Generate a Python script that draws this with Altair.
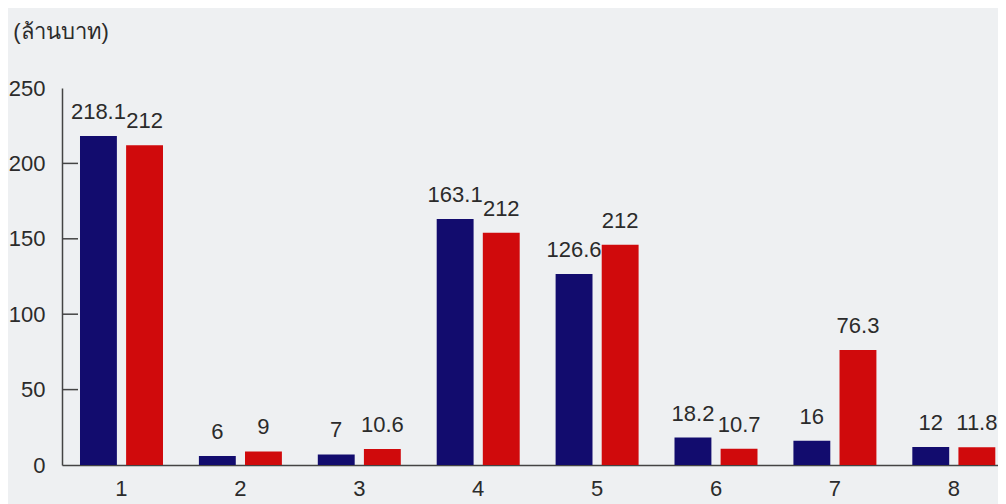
import altair as alt
import pandas as pd

categories = ["1", "2", "3", "4", "5", "6", "7", "8"]
series = ["s1", "s2"]
navy_values = [218.1, 6, 7, 163.1, 126.6, 18.2, 16, 12]
red_values = [212, 9, 10.6, 154, 146, 10.7, 76.3, 11.8]
navy_labels = ["218.1", "6", "7", "163.1", "126.6", "18.2", "16", "12"]
red_labels = ["212", "9", "10.6", "212", "212", "10.7", "76.3", "11.8"]
y_ticks = [0, 50, 100, 150, 200, 250]
inner_ticks = [50, 100, 150, 200]
title_text = "(ล้านบาท)"

rows = []
for c, v, l in zip(categories, navy_values, navy_labels):
    rows.append({"category": c, "series": series[0], "value": v, "label": l})
for c, v, l in zip(categories, red_values, red_labels):
    rows.append({"category": c, "series": series[1], "value": v, "label": l})
df = pd.DataFrame(rows)
tick_df = pd.DataFrame({"value": inner_ticks})

FONT = "Liberation Sans"
TXT = "#2b2b2b"
AX = "#444444"

x_enc = alt.X(
    "category:N",
    sort=categories,
    scale=alt.Scale(paddingInner=0.302, paddingOuter=0.087, align=0.87),
    axis=alt.Axis(
        title=None, labelAngle=0, ticks=False, labelPadding=13,
        labelFontSize=22, labelFont=FONT, labelColor=TXT,
        domainColor=AX, domainWidth=1.5,
    ),
)
xo_enc = alt.XOffset("series:N", sort=series, scale=alt.Scale(paddingInner=0.2, paddingOuter=0))
y_enc = alt.Y(
    "value:Q",
    scale=alt.Scale(domain=[0, 250], nice=False),
    axis=alt.Axis(
        values=y_ticks, title=None, ticks=False, grid=False, labelPadding=17,
        labelFontSize=22, labelFont=FONT, labelColor=TXT,
        domainColor=AX, domainWidth=1.5,
    ),
)
color_enc = alt.Color(
    "series:N",
    scale=alt.Scale(domain=series, range=["#120c6e", "#d00a0c"]),
    legend=None,
)

bars = alt.Chart(df).mark_bar().encode(x=x_enc, xOffset=xo_enc, y=y_enc, color=color_enc)
labels = alt.Chart(df).mark_text(
    dy=-17, baseline="alphabetic", fontSize=22, font=FONT, color=TXT
).encode(x=x_enc, xOffset=xo_enc, y=y_enc, text="label:N")
ticks = alt.Chart(tick_df).mark_rule(color=AX, strokeWidth=1.5).encode(
    y=y_enc, x=alt.value(0), x2=alt.value(16)
)

chart = (
    alt.layer(bars, labels, ticks)
    .properties(
        width=936,
        height=377,
        autosize=alt.AutoSizeParams(type="none"),
        padding={"left": 54, "top": 80, "right": 0, "bottom": 40},
        title=alt.TitleParams(
            text=title_text, anchor="start", frame="bounds", fontSize=22,
            fontWeight="normal", font=FONT, color=TXT, dx=5, offset=33,
        ),
    )
    .configure(background="#eef0f2")
    .configure_view(stroke=None)
)

chart.save("out.html", embed_options={"renderer": "svg", "actions": False})
